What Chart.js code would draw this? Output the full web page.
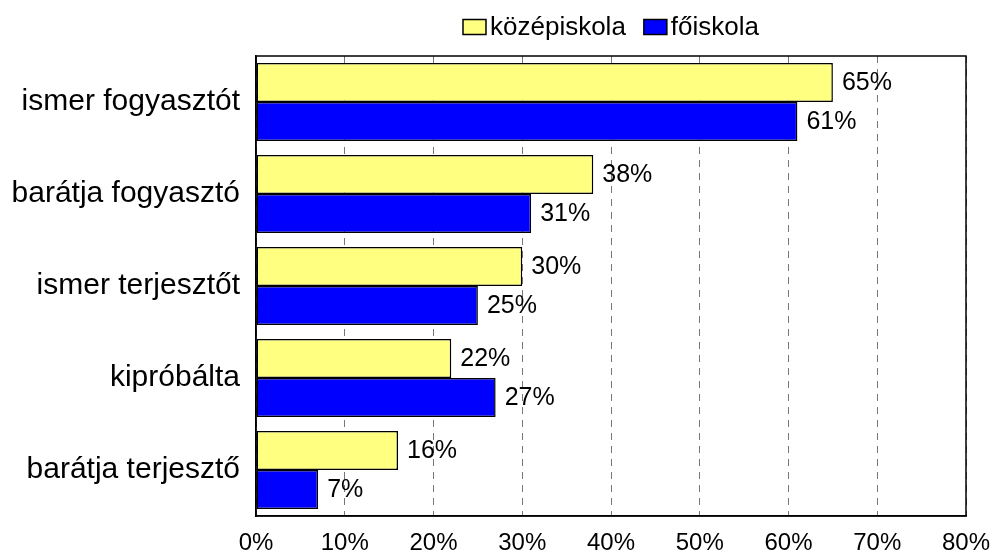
<!DOCTYPE html>
<html>
<head>
<meta charset="utf-8">
<script src="https://cdn.jsdelivr.net/npm/chart.js@4.4.1/dist/chart.umd.min.js"></script>
<style>
  html, body { margin: 0; padding: 0; background: #fff; }
  #wrap { width: 993px; height: 553px; position: relative; }
</style>
</head>
<body>
<div id="wrap"><canvas id="chart"></canvas></div>
<script>
const categories = ['ismer fogyasztót', 'barátja fogyasztó', 'ismer terjesztőt', 'kipróbálta', 'barátja terjesztő'];
const kozepiskola = [65, 38, 30, 22, 16];
const foiskola = [61, 31, 25, 27, 7];
const seriesNames = ['középiskola', 'főiskola'];

const FONT = 'Arial, "Liberation Sans", sans-serif';

// frame around the plot + value labels + legend
const extras = {
    id: 'extras',
    afterDatasetsDraw(chart) {
        const ctx = chart.ctx;
        const area = chart.chartArea;
        ctx.save();
        ctx.strokeStyle = '#000';
        ctx.lineWidth = 1.5;
        ctx.strokeRect(area.left, area.top, area.right - area.left, area.bottom - area.top);

        // value labels
        ctx.fillStyle = '#000';
        ctx.font = '25px ' + FONT;
        ctx.textAlign = 'left';
        ctx.textBaseline = 'middle';
        chart.data.datasets.forEach((ds, i) => {
            chart.getDatasetMeta(i).data.forEach((bar, j) => {
                ctx.fillText(ds.data[j] + '%', bar.x + 9, bar.y + 1);
            });
        });

        // legend, centred over the plot area
        ctx.font = '26px ' + FONT;
        const boxW = 23, boxH = 15, gap = 4, between = 18;
        const widths = seriesNames.map(n => boxW + gap + ctx.measureText(n).width);
        const total = widths[0] + widths[1] + between;
        let x = (area.left + area.right) / 2 - total / 2;
        const y = 27;
        chart.data.datasets.forEach((ds, i) => {
            ctx.fillStyle = ds.backgroundColor;
            ctx.fillRect(x, y - boxH / 2, boxW, boxH);
            ctx.lineWidth = 1.5;
            ctx.strokeStyle = '#000';
            ctx.strokeRect(x, y - boxH / 2, boxW, boxH);
            ctx.fillStyle = '#000';
            ctx.fillText(seriesNames[i], x + boxW + gap, y + 1);
            x += widths[i] + between;
        });
        ctx.restore();
    }
};

new Chart(document.getElementById('chart'), {
    type: 'bar',
    data: {
        labels: categories,
        datasets: [
            {
                label: seriesNames[0],
                data: kozepiskola,
                backgroundColor: '#FFFF80',
                borderColor: '#000',
                borderWidth: 1.5,
                borderSkipped: false
            },
            {
                label: seriesNames[1],
                data: foiskola,
                backgroundColor: '#0000FF',
                borderColor: '#000',
                borderWidth: 1.5,
                borderSkipped: false
            }
        ]
    },
    options: {
        indexAxis: 'y',
        responsive: true,
        maintainAspectRatio: false,
        animation: false,
        datasets: {
            bar: { barPercentage: 1, categoryPercentage: 0.85 }
        },
        layout: {
            padding: { top: 56, right: 27, left: 0, bottom: 0 }
        },
        plugins: {
            legend: { display: false },
            tooltip: { enabled: false }
        },
        scales: {
            x: {
                min: 0,
                max: 80,
                ticks: {
                    stepSize: 10,
                    color: '#000',
                    font: { size: 24, family: FONT },
                    padding: 13,
                    callback: v => v + '%'
                },
                grid: {
                    color: '#777',
                    lineWidth: 1,
                    drawTicks: false,
                    tickLength: 0
                },
                border: { display: true, color: '#000', width: 1.5, dash: [7, 6] },
                afterFit(scale) {
                    scale.height = 37;
                    scale.paddingLeft = 0;
                    scale.paddingRight = 0;
                }
            },
            y: {
                ticks: {
                    color: '#000',
                    font: { size: 30, family: FONT },
                    padding: 16
                },
                grid: { display: false, drawTicks: false },
                border: { display: true, color: '#000', width: 1.5 },
                afterFit(scale) { scale.width = 256; }
            }
        }
    },
    plugins: [extras]
});
</script>
</body>
</html>
